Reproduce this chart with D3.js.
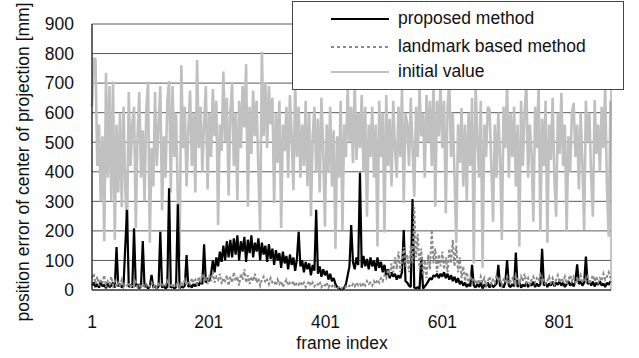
<!DOCTYPE html>
<html>
<head>
<meta charset="utf-8">
<script src="https://cdn.jsdelivr.net/npm/d3@7"></script>
<style>
  body { margin: 0; background: #fff; }
  text { font-family: "Liberation Sans", Arial, sans-serif; fill: #111; }
</style>
</head>
<body>
<figure id="chart" style="margin:0"></figure>
<script>
// frame index runs 1..889, one value every 3 frames
const frameStart = 1, frameStep = 3;
const xTicks = [1, 201, 401, 601, 801];
const yTicks = [0, 100, 200, 300, 400, 500, 600, 700, 800, 900];
const seriesNames = ['proposed method', 'landmark based method', 'initial value'];

const initialValue = [
  620,785,780,420,560,300,520,165,735,380,690,300,705,170,560,330,600,280,620,350,
  190,670,420,560,620,210,520,670,380,540,300,610,705,160,480,350,670,420,560,690,
  270,520,380,640,707,330,690,450,600,310,110,760,480,620,350,540,675,420,600,330,
  778,480,620,400,560,690,340,600,450,680,520,640,220,560,470,739,500,650,320,600,
  700,420,600,305,640,480,690,550,764,282,620,460,675,520,640,400,203,806,520,700,
  480,690,560,650,294,600,430,640,210,560,470,620,380,660,520,338,700,450,620,380,
  560,420,640,350,600,250,520,620,400,580,330,650,480,214,560,400,620,350,540,140,
  520,380,640,203,560,450,680,500,620,430,700,440,600,480,660,400,620,248,560,450,
  620,380,560,147,640,450,600,195,660,420,580,350,640,480,380,620,450,680,294,600,
  560,420,650,480,316,620,450,680,520,600,380,660,500,640,420,700,282,640,520,690,
  480,640,260,620,700,450,600,380,158,560,430,616,350,560,300,600,420,650,90,700,
  520,380,640,75,560,450,620,610,420,231,560,380,600,450,169,620,480,700,380,600,
  450,620,350,560,147,640,420,600,700,380,560,460,231,620,480,690,196,580,420,640,
  160,560,440,650,380,248,600,460,667,420,560,197,520,400,600,633,450,560,340,600,
  420,203,640,500,600,380,248,643,460,560,400,620,480,690,350,180,640
];

const proposed = [
  15,25,10,20,8,30,12,18,6,22,10,15,25,8,145,12,20,8,15,148,
  271,10,18,8,209,12,20,6,14,166,10,18,5,12,51,8,15,5,12,197,
  8,15,5,12,344,8,14,5,10,290,6,12,8,15,118,10,18,8,20,12,
  25,15,30,20,155,25,40,30,55,100,60,110,80,130,95,150,100,165,110,170,
  110,175,120,185,100,165,130,180,95,170,125,185,110,160,130,175,100,160,120,150,
  95,155,105,140,85,135,100,125,75,130,90,115,70,120,85,110,65,105,197,80,
  100,60,95,70,90,50,85,65,271,55,80,45,70,50,65,35,55,30,40,20,
  10,5,3,2,8,20,50,80,220,95,70,110,85,397,75,115,80,105,70,110,
  80,100,65,110,75,95,60,85,50,70,40,60,45,55,35,50,40,60,203,30,
  25,15,10,308,8,5,10,3,110,5,12,20,30,40,35,50,45,55,40,55,
  45,60,40,55,35,50,30,45,25,40,20,30,15,25,10,20,12,85,15,8,
  20,10,25,5,18,12,25,8,20,10,15,22,85,12,20,8,25,101,15,10,
  20,12,127,10,25,8,18,12,25,10,20,15,28,10,22,12,20,139,15,25,
  10,22,15,28,12,25,18,30,15,25,10,20,30,15,25,12,28,87,20,30,
  15,25,113,20,30,15,28,12,25,18,30,15,22,10,25,18,30
];

const landmark = [
  40,55,20,45,15,35,25,50,10,30,20,45,15,30,10,25,15,35,10,20,
  15,25,8,20,12,28,10,18,6,22,12,20,8,15,25,10,18,6,20,12,
  25,10,18,30,12,22,8,20,15,28,10,25,18,35,15,30,20,40,25,35,
  20,45,25,55,30,40,20,50,30,60,25,45,35,55,20,40,30,50,15,45,
  25,60,30,45,15,55,35,70,25,50,20,45,30,55,25,40,15,35,45,25,
  35,20,40,25,30,15,35,20,30,10,25,35,15,25,20,30,12,25,18,28,
  15,25,10,20,30,15,25,12,22,18,28,10,20,15,25,8,18,12,20,8,
  5,10,3,8,5,12,8,15,10,20,12,25,15,20,10,25,15,30,20,25,
  15,30,20,35,25,40,30,50,40,70,50,90,60,110,70,130,60,100,145,80,
  120,60,150,90,280,110,190,70,140,50,100,40,120,70,203,90,140,60,120,80,
  130,70,110,60,140,90,170,80,150,60,110,40,80,30,60,25,45,30,40,20,
  35,20,45,25,40,15,30,45,20,35,25,50,30,40,15,35,25,45,20,30,
  40,25,50,30,20,45,30,55,25,40,20,35,45,25,40,30,50,25,35,20,
  30,45,25,40,20,35,50,25,40,30,45,20,35,50,30,45,25,40,30,50,
  25,40,30,45,20,35,50,30,45,25,40,30,55,35,45,60,40
];

const width = 639, height = 358;
const plot = {left: 92, right: 611, top: 24, bottom: 290};

const svg = d3.select('figure#chart')
  .append('svg')
  .attr('width', width)
  .attr('height', height);

const x = d3.scaleLinear().domain([1, 890]).range([plot.left, plot.right]);
const y = d3.scaleLinear().domain([0, 900]).range([plot.bottom, plot.top]);

// horizontal gridlines
svg.append('g')
  .selectAll('line')
  .data(yTicks.filter(d => d > 0))
  .enter()
  .append('line')
  .attr('x1', plot.left).attr('x2', plot.right)
  .attr('y1', d => y(d)).attr('y2', d => y(d))
  .attr('stroke', '#5a5a5a')
  .attr('stroke-width', 1);

const frameOf = i => frameStart + i * frameStep;
const line = d3.line()
  .x((d, i) => x(frameOf(i)))
  .y(d => y(d));

svg.append('path')
  .attr('d', line(initialValue))
  .attr('fill', 'none')
  .attr('stroke', '#c0c0c0')
  .attr('stroke-width', 2.6)
  .attr('stroke-linejoin', 'bevel');

svg.append('path')
  .attr('d', line(proposed))
  .attr('fill', 'none')
  .attr('stroke', '#000')
  .attr('stroke-width', 2.2)
  .attr('stroke-linejoin', 'bevel');

svg.append('path')
  .attr('d', line(landmark))
  .attr('fill', 'none')
  .attr('stroke', '#8a8a8a')
  .attr('stroke-width', 2)
  .attr('stroke-dasharray', '3,2');

// frame lines
svg.append('line')
  .attr('x1', plot.right).attr('x2', plot.right)
  .attr('y1', plot.top).attr('y2', plot.bottom)
  .attr('stroke', '#8a8a8a');
svg.append('line')
  .attr('x1', plot.left).attr('x2', plot.right)
  .attr('y1', plot.bottom).attr('y2', plot.bottom)
  .attr('stroke', '#333').attr('stroke-width', 1.5);
svg.append('line')
  .attr('x1', plot.left).attr('x2', plot.left)
  .attr('y1', plot.top).attr('y2', plot.bottom)
  .attr('stroke', '#333').attr('stroke-width', 1.5);

// tick labels
svg.append('g')
  .selectAll('text')
  .data(yTicks)
  .enter()
  .append('text')
  .attr('x', 74)
  .attr('y', d => y(d))
  .attr('dy', '0.36em')
  .attr('text-anchor', 'end')
  .style('font-size', '17.5px')
  .text(d => d);

svg.append('g')
  .selectAll('text')
  .data(xTicks)
  .enter()
  .append('text')
  .attr('x', d => x(d))
  .attr('y', 328)
  .attr('text-anchor', 'middle')
  .style('font-size', '17.5px')
  .text(d => d);

// axis titles
svg.append('text')
  .attr('transform', 'translate(29,162) rotate(-90)')
  .attr('text-anchor', 'middle')
  .style('font-size', '17.5px')
  .text('position error of center of projection [mm]');

svg.append('text')
  .attr('x', 342)
  .attr('y', 349)
  .attr('text-anchor', 'middle')
  .style('font-size', '17.5px')
  .text('frame index');

// legend
const legend = svg.append('g');
legend.append('rect')
  .attr('x', 292.5).attr('y', 1.5)
  .attr('width', 331).attr('height', 88)
  .attr('fill', '#fff')
  .attr('stroke', '#444');

const legendStyles = [
  {stroke: '#000', dash: null},
  {stroke: '#8a8a8a', dash: '3,3'},
  {stroke: '#c0c0c0', dash: null}
];
const legendY = [19, 47, 72];

legend.selectAll('line')
  .data(seriesNames)
  .enter()
  .append('line')
  .attr('x1', 331).attr('x2', 389)
  .attr('y1', (d, i) => legendY[i]).attr('y2', (d, i) => legendY[i])
  .attr('stroke', (d, i) => legendStyles[i].stroke)
  .attr('stroke-width', 2)
  .attr('stroke-dasharray', (d, i) => legendStyles[i].dash);

legend.selectAll('text')
  .data(seriesNames)
  .enter()
  .append('text')
  .attr('x', 398)
  .attr('y', (d, i) => legendY[i] + 5)
  .style('font-size', '17.5px')
  .text(d => d);
</script>
</body>
</html>
